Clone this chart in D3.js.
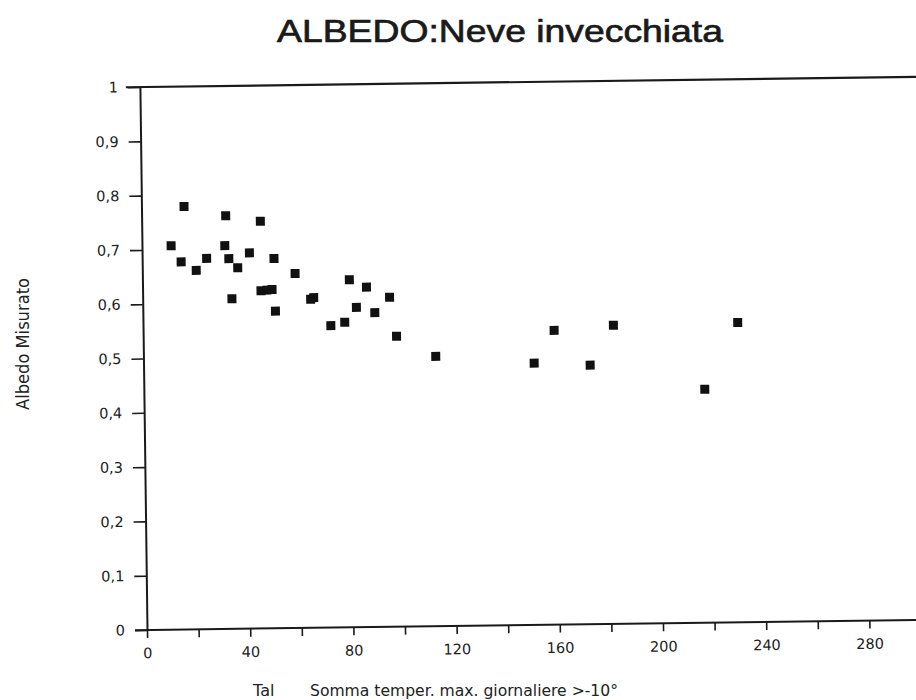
<!DOCTYPE html>
<html><head><meta charset="utf-8">
<script src="https://cdn.jsdelivr.net/npm/d3@7"></script>
<style>body{margin:0;background:#fff} svg{display:block}</style>
</head><body>
<svg id="c" width="916" height="700"></svg>
<script>
const xValues = [11.3, 15.1, 16.5, 20.9, 25.0, 32.6, 32.1, 33.6, 34.6, 37.0, 41.6, 46.0, 45.9, 48.2, 50.2, 51.1, 51.4, 59.2, 65.1, 66.3, 72.8, 78.2, 80.2, 82.8, 86.8, 89.9, 95.7, 98.2, 113.3, 151.4, 159.3, 173.1, 182.3, 217.4, 230.5];
const yValues = [0.707, 0.677, 0.779, 0.661, 0.683, 0.761, 0.706, 0.682, 0.608, 0.665, 0.692, 0.750, 0.622, 0.623, 0.624, 0.681, 0.584, 0.653, 0.605, 0.608, 0.556, 0.562, 0.640, 0.589, 0.626, 0.579, 0.607, 0.535, 0.497, 0.482, 0.542, 0.477, 0.550, 0.430, 0.552];
const xTickValues = [0, 20, 40, 60, 80, 100, 120, 140, 160, 180, 200, 220, 240, 260, 280, 300];
const xTickLabels = ["0", "", "40", "", "80", "", "120", "", "160", "", "200", "", "240", "", "280", ""];
const yTickValues = [0, 0.1, 0.2, 0.3, 0.4, 0.5, 0.6, 0.7, 0.8, 0.9, 1];
const yTickLabels = ["0", "0,1", "0,2", "0,3", "0,4", "0,5", "0,6", "0,7", "0,8", "0,9", "1"];
const titleText = "ALBEDO:Neve invecchiata";
const yTitleText = "Albedo Misurato";
const xTitlePrefix = "Tal";
const xTitleText = "Somma temper. max. giornaliere >-10°";

const FONT = "'Liberation Sans', Arial, Helvetica, sans-serif";
const TFONT = "'DejaVu Sans', Verdana, sans-serif";
const INK = "#1a1a1a";
const svg = d3.select("#c");
const ox = 147, oy = 630;
const x = d3.scaleLinear().domain([0, 300]).range([ox, ox + 774]);
const y = d3.scaleLinear().domain([0, 1]).range([oy, oy - 543]);

const plot = svg.append("g").attr("transform", `rotate(-0.75 ${ox} ${oy})`);

// top frame line
plot.append("line")
  .attr("x1", ox - 14).attr("x2", x(300) + 20)
  .attr("y1", y(1)).attr("y2", y(1))
  .attr("stroke", INK).attr("stroke-width", 2.2);

const yAxis = plot.append("g")
  .attr("transform", `translate(${ox},0)`)
  .call(d3.axisLeft(y).tickValues(yTickValues)
    .tickFormat((d, i) => yTickLabels[i]).tickSize(12).tickSizeOuter(0).tickPadding(10));

const xAxis = plot.append("g")
  .attr("transform", `translate(0,${oy})`)
  .call(d3.axisBottom(x).tickValues(xTickValues)
    .tickFormat((d, i) => xTickLabels[i]).tickSize(8).tickSizeOuter(0).tickPadding(10));

[yAxis, xAxis].forEach(a => {
  a.select(".domain").attr("stroke", INK).attr("stroke-width", 2);
  a.selectAll(".tick line").attr("stroke", INK).attr("stroke-width", 1.6);
  a.selectAll(".tick text").attr("fill", "#222").style("font-family", TFONT).style("font-size", "14.5px");
});
xAxis.select(".domain").attr("d", `M${ox - 12},0H${x(300) + 20}`);

plot.append("g").selectAll("rect")
  .data(xValues.map((v, i) => [v, yValues[i]]))
  .join("rect")
  .attr("x", d => x(d[0]) - 4.5)
  .attr("y", d => y(d[1]) - 4.5)
  .attr("width", 9).attr("height", 9)
  .attr("fill", "#111");

// titles
svg.append("text")
  .attr("x", 500).attr("y", 42)
  .attr("text-anchor", "middle")
  .attr("textLength", 446).attr("lengthAdjust", "spacingAndGlyphs")
  .style("font-family", FONT).style("font-size", "32px")
  .attr("fill", INK).attr("stroke", INK).attr("stroke-width", 0.7)
  .text(titleText);

svg.append("text")
  .attr("transform", "translate(29,344) rotate(-90)")
  .attr("text-anchor", "middle")
  .attr("textLength", 132).attr("lengthAdjust", "spacingAndGlyphs")
  .style("font-family", TFONT).style("font-size", "17px")
  .attr("fill", "#222")
  .text(yTitleText);

svg.append("text")
  .attr("x", 253).attr("y", 696)
  .style("font-family", TFONT).style("font-size", "16px")
  .attr("fill", "#222")
  .text(xTitlePrefix);

svg.append("text")
  .attr("x", 310).attr("y", 696)
  .attr("textLength", 308).attr("lengthAdjust", "spacingAndGlyphs")
  .style("font-family", TFONT).style("font-size", "16px")
  .attr("fill", "#222")
  .text(xTitleText);
</script>
</body></html>
